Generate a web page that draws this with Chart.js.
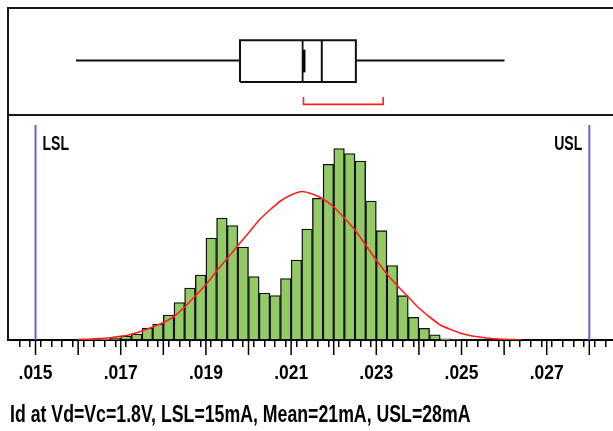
<!DOCTYPE html>
<html>
<head>
<meta charset="utf-8">
<script src="https://cdn.jsdelivr.net/npm/chart.js@4.4.1/dist/chart.umd.min.js"></script>
<style>
  html, body { margin: 0; padding: 0; background: #fff; }
  .wrap { position: relative; width: 613px; height: 431px; }
</style>
</head>
<body>
<div class="wrap"><canvas id="myChart"></canvas></div>
<script>
// histogram bins (left edge, A), each 0.00025 wide
const BIN_WIDTH = 0.00025;
const BINS = [
  0.016, 0.01625, 0.0165, 0.01675, 0.017, 0.01725, 0.0175, 0.01775,
  0.018, 0.01825, 0.0185, 0.01875, 0.019, 0.01925, 0.0195, 0.01975,
  0.02, 0.02025, 0.0205, 0.02075, 0.021, 0.02125, 0.0215, 0.02175,
  0.022, 0.02225, 0.0225, 0.02275, 0.023, 0.02325, 0.0235, 0.02375,
  0.024, 0.02425, 0.0245, 0.02475,
];
const COUNTS = [
  0.3, 0.5, 0.8, 1.6, 4, 6, 12, 16,
  25, 37.5, 52, 65, 102, 122, 114.5, 93,
  63.5, 47, 44.5, 61.5, 80, 111, 141.7, 175.7,
  191.5, 186.5, 179, 139, 109.3, 74.5, 44.3, 22.7,
  11.7, 5.2, 1.2, 0.4,
];

// fitted normal curve
const FIT_X = [
  0.016, 0.01625, 0.0165, 0.01675, 0.017, 0.01725, 0.0175, 0.01775,
  0.018, 0.01825, 0.0185, 0.01875, 0.019, 0.01925, 0.0195, 0.01975,
  0.02, 0.02025, 0.0205, 0.02075, 0.021, 0.02125, 0.0215, 0.02175,
  0.022, 0.02225, 0.0225, 0.02275, 0.023, 0.02325, 0.0235, 0.02375,
  0.024, 0.02425, 0.0245, 0.02475, 0.025, 0.02525, 0.0255, 0.02575,
  0.026, 0.02625, 0.0264,
];
const FIT_Y = [
  0.5, 0.8, 1.4, 2.3, 3.6, 5.8, 9, 13,
  17.5, 23.5, 33, 44, 55.5, 69, 81.5, 94.5,
  107, 120, 130, 139, 145, 148.5, 146, 141,
  133, 122, 110, 95, 80, 66, 54, 43,
  32, 23, 15, 10.5, 6.5, 4, 2.5, 1.3,
  0.7, 0.4, 0.2,
];

// box plot: min, q1, median, q3, max
const BOX_STATS = [0.01595, 0.0198, 0.02172, 0.02252, 0.02601];
const MEAN = 0.02127;
const SHORTEST_HALF = [0.02129, 0.02316];

const LSL = 0.015;
const USL = 0.028;
const TICK_LABELS = [".015", ".017", ".019", ".021", ".023", ".025", ".027"];
const TITLE = "Id at Vd=Vc=1.8V, LSL=15mA, Mean=21mA, USL=28mA";

const FONT = "'Liberation Sans', Arial, sans-serif";

// vertical placement inside the box panel (yBox units, 0 = panel bottom)
const WHISKER_Y = 0.51;
const BOX_LO = 0.31;
const BOX_HI = 0.70;
const MEAN_LO = 0.40;
const MEAN_HI = 0.61;
const SPAN_LO = 0.10;
const SPAN_HI = 0.17;
const LIMIT_TOP = 215;
const LIMIT_LABEL_Y = 190;

const seg = (points, color, width) => ({
  type: "line",
  yAxisID: "yBox",
  data: points.map(([x, y]) => ({ x, y })),
  borderColor: color,
  borderWidth: width,
  pointRadius: 0,
  fill: false,
  tension: 0,
  order: 1,
});

const [bMin, bQ1, bMed, bQ3, bMax] = BOX_STATS;

const limitLine = (v) => ({
  type: "line",
  data: [{ x: v, y: 0 }, { x: v, y: LIMIT_TOP }],
  borderColor: "#5a68c4",
  borderWidth: 2,
  pointRadius: 0,
  fill: false,
  order: 1,
});

// condensed bold text: squeeze horizontally around the anchor
const squeezeText = (ctx, text, x, y, size, align, sx) => {
  ctx.save();
  ctx.translate(x, y);
  ctx.scale(sx, 1);
  ctx.font = "bold " + size + "px " + FONT;
  ctx.textAlign = align;
  ctx.textBaseline = "alphabetic";
  ctx.fillStyle = "#000";
  ctx.fillText(text, 0, 0);
  ctx.restore();
};

// frame, separator, long ticks, labels and caption
const framePlugin = {
  id: "frame",
  afterDraw(chart) {
    const { ctx, chartArea: a, scales } = chart;
    const x = scales.x;
    ctx.save();
    ctx.strokeStyle = "#1a1a1a";
    ctx.lineWidth = 2;
    ctx.beginPath();
    ctx.moveTo(a.left, a.bottom);
    ctx.lineTo(a.left, a.top);
    ctx.lineTo(a.right, a.top);
    const sep = scales.yBox.getPixelForValue(0);
    ctx.moveTo(a.left, sep);
    ctx.lineTo(a.right, sep);
    ctx.stroke();

    ctx.strokeStyle = "#000";
    ctx.lineWidth = 1.5;
    ctx.beginPath();
    for (let k = 15; k <= 28; k++) {
      const px = x.getPixelForValue(k / 1000);
      ctx.moveTo(px, a.bottom);
      ctx.lineTo(px, a.bottom + 15);
    }
    ctx.stroke();
    ctx.restore();

    const ly = scales.y.getPixelForValue(LIMIT_LABEL_Y);
    squeezeText(ctx, "LSL", x.getPixelForValue(LSL) + 7, ly, 19.5, "left", 0.72);
    squeezeText(ctx, "USL", x.getPixelForValue(USL) - 7, ly, 19.5, "right", 0.72);

    TICK_LABELS.forEach((t) => {
      squeezeText(ctx, t, x.getPixelForValue(parseFloat(t)), a.bottom + 38.5, 21, "center", 0.83);
    });

    squeezeText(ctx, TITLE, 10, a.bottom + 82, 23, "left", 0.77);
  },
};

const ctx = document.getElementById("myChart").getContext("2d");

const myChart = new Chart(ctx, {
  type: "bar",
  data: {
    datasets: [
      {
        type: "line",
        data: FIT_X.map((x, i) => ({ x, y: FIT_Y[i] })),
        borderColor: "#ff1f1f",
        borderWidth: 1.6,
        pointRadius: 0,
        fill: false,
        tension: 0.2,
        order: 0,
      },
      {
        type: "bar",
        data: BINS.map((b, i) => ({ x: b + BIN_WIDTH / 2, y: COUNTS[i] })),
        backgroundColor: "#94c968",
        borderColor: "#111",
        borderWidth: 1.4,
        borderSkipped: false,
        barPercentage: 1,
        categoryPercentage: 1,
        order: 2,
      },
      limitLine(LSL),
      limitLine(USL),
      seg([[bMin, WHISKER_Y], [bQ1, WHISKER_Y]], "#111", 1.8),
      seg([[bQ3, WHISKER_Y], [bMax, WHISKER_Y]], "#111", 1.8),
      seg([[bQ1, BOX_LO], [bQ1, BOX_HI], [bQ3, BOX_HI], [bQ3, BOX_LO], [bQ1, BOX_LO]], "#111", 2),
      seg([[MEAN, BOX_LO], [MEAN, BOX_HI]], "#111", 1.8),
      seg([[bMed, BOX_LO], [bMed, BOX_HI]], "#111", 2),
      // mean marker: short heavy stroke beside the mean line
      seg([[MEAN + 0.00003, MEAN_LO], [MEAN + 0.00003, MEAN_HI]], "#000", 1.8),
      seg([[MEAN + 0.00005, MEAN_LO], [MEAN + 0.00005, MEAN_HI]], "#000", 1.4),
      seg([[SHORTEST_HALF[0], SPAN_HI], [SHORTEST_HALF[0], SPAN_LO], [SHORTEST_HALF[1], SPAN_LO], [SHORTEST_HALF[1], SPAN_HI]], "#ff2020", 1.6),
    ],
  },
  options: {
    responsive: true,
    maintainAspectRatio: false,
    animation: false,
    layout: { padding: { left: 8, top: 8, right: 0, bottom: 84 } },
    plugins: {
      legend: { display: false },
      tooltip: { enabled: false },
    },
    scales: {
      x: {
        type: "linear",
        offset: false,
        min: 0.014354,
        max: 0.028556,
        afterBuildTicks: (scale) => {
          scale.ticks = [];
          for (let i = 59; i <= 113; i++) scale.ticks.push({ value: i / 4000 });
        },
        ticks: { display: false, autoSkip: false },
        grid: {
          drawOnChartArea: false,
          drawTicks: true,
          tickLength: 7,
          color: "#000",
          lineWidth: 1.5,
        },
        border: { display: true, color: "#000", width: 2 },
      },
      y: { display: false, min: 0, max: 332 },
      yBox: { display: false, position: "left", min: -2.1, max: 1 },
    },
  },
  plugins: [framePlugin],
});
</script>
</body>
</html>
